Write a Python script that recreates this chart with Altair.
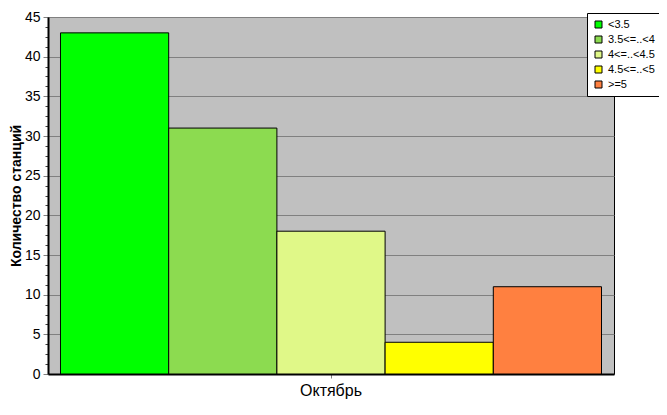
import altair as alt
import pandas as pd

months = ["Октябрь", "Октябрь", "Октябрь", "Октябрь", "Октябрь"]
classes = ["<3.5", "3.5<=..<4", "4<=..<4.5", "4.5<=..<5", ">=5"]
counts = [43, 31, 18, 4, 11]
colors = ["#00FF00", "#8CDB50", "#E0F888", "#FFFF00", "#FF8040"]
y_ticks = [i * 1.25 for i in range(37)]

df = pd.DataFrame({"month": months, "cls": classes, "count": counts})

bars = alt.Chart(df).mark_bar(stroke="black", strokeWidth=1, opacity=1).encode(
    x=alt.X("month:N", title=None,
            scale=alt.Scale(paddingInner=0, paddingOuter=0.0231),
            axis=alt.Axis(labelAngle=0, labelFontSize=16, labelFont="Liberation Sans",
                          labelColor="black", tickColor="#808080", tickSize=4,
                          labelPadding=4, domainColor="black", domainWidth=2)),
    xOffset=alt.XOffset("cls:N", sort=classes,
                        scale=alt.Scale(paddingInner=0, paddingOuter=0)),
    y=alt.Y("count:Q", title="Количество станций",
            scale=alt.Scale(domain=[0, 45], nice=False),
            axis=alt.Axis(values=y_ticks,
                          labelExpr="datum.value % 5 == 0 ? datum.label : ''",
                          labelOverlap=False,
                          labelFontSize=14, labelFont="Liberation Sans", labelColor="black",
                          labelPadding=3,
                          tickSize={"condition": {"test": "datum.value % 5 == 0", "value": 5}, "value": 3},
                          tickColor={"condition": {"test": "datum.value % 5 == 0", "value": "#808080"}, "value": "#404040"},
                          gridOpacity={"condition": {"test": "datum.value % 5 == 0", "value": 1}, "value": 0},
                          grid=True, gridColor="#808080", gridWidth=1,
                          domainColor="black", domainWidth=2,
                          titleFont="Liberation Sans", titleFontSize=14, titleFontWeight="bold",
                          titleColor="black", titlePadding=1)),
    color=alt.Color("cls:N", sort=classes,
                    scale=alt.Scale(domain=classes, range=colors),
                    legend=alt.Legend(title=None, orient="none", legendX=539, legendY=-4,
                                      fillColor="white", strokeColor="black", padding=6,
                                      symbolType="square", symbolSize=49,
                                      symbolStrokeColor="black", symbolStrokeWidth=1,
                                      symbolOpacity=1,
                                      labelFont="Liberation Sans", labelFontSize=11,
                                      labelColor="black", labelOffset=4, rowPadding=3)),
).properties(width=566, height=357)

chart = bars.configure_view(fill="#C0C0C0", stroke="black", strokeWidth=1).properties(
    autosize=alt.AutoSizeParams(type="none"),
    padding={"left": 40, "top": 9, "right": 45, "bottom": 33},
    background="white",
)

chart.save("out.html", embed_options={"renderer": "svg", "actions": False})
